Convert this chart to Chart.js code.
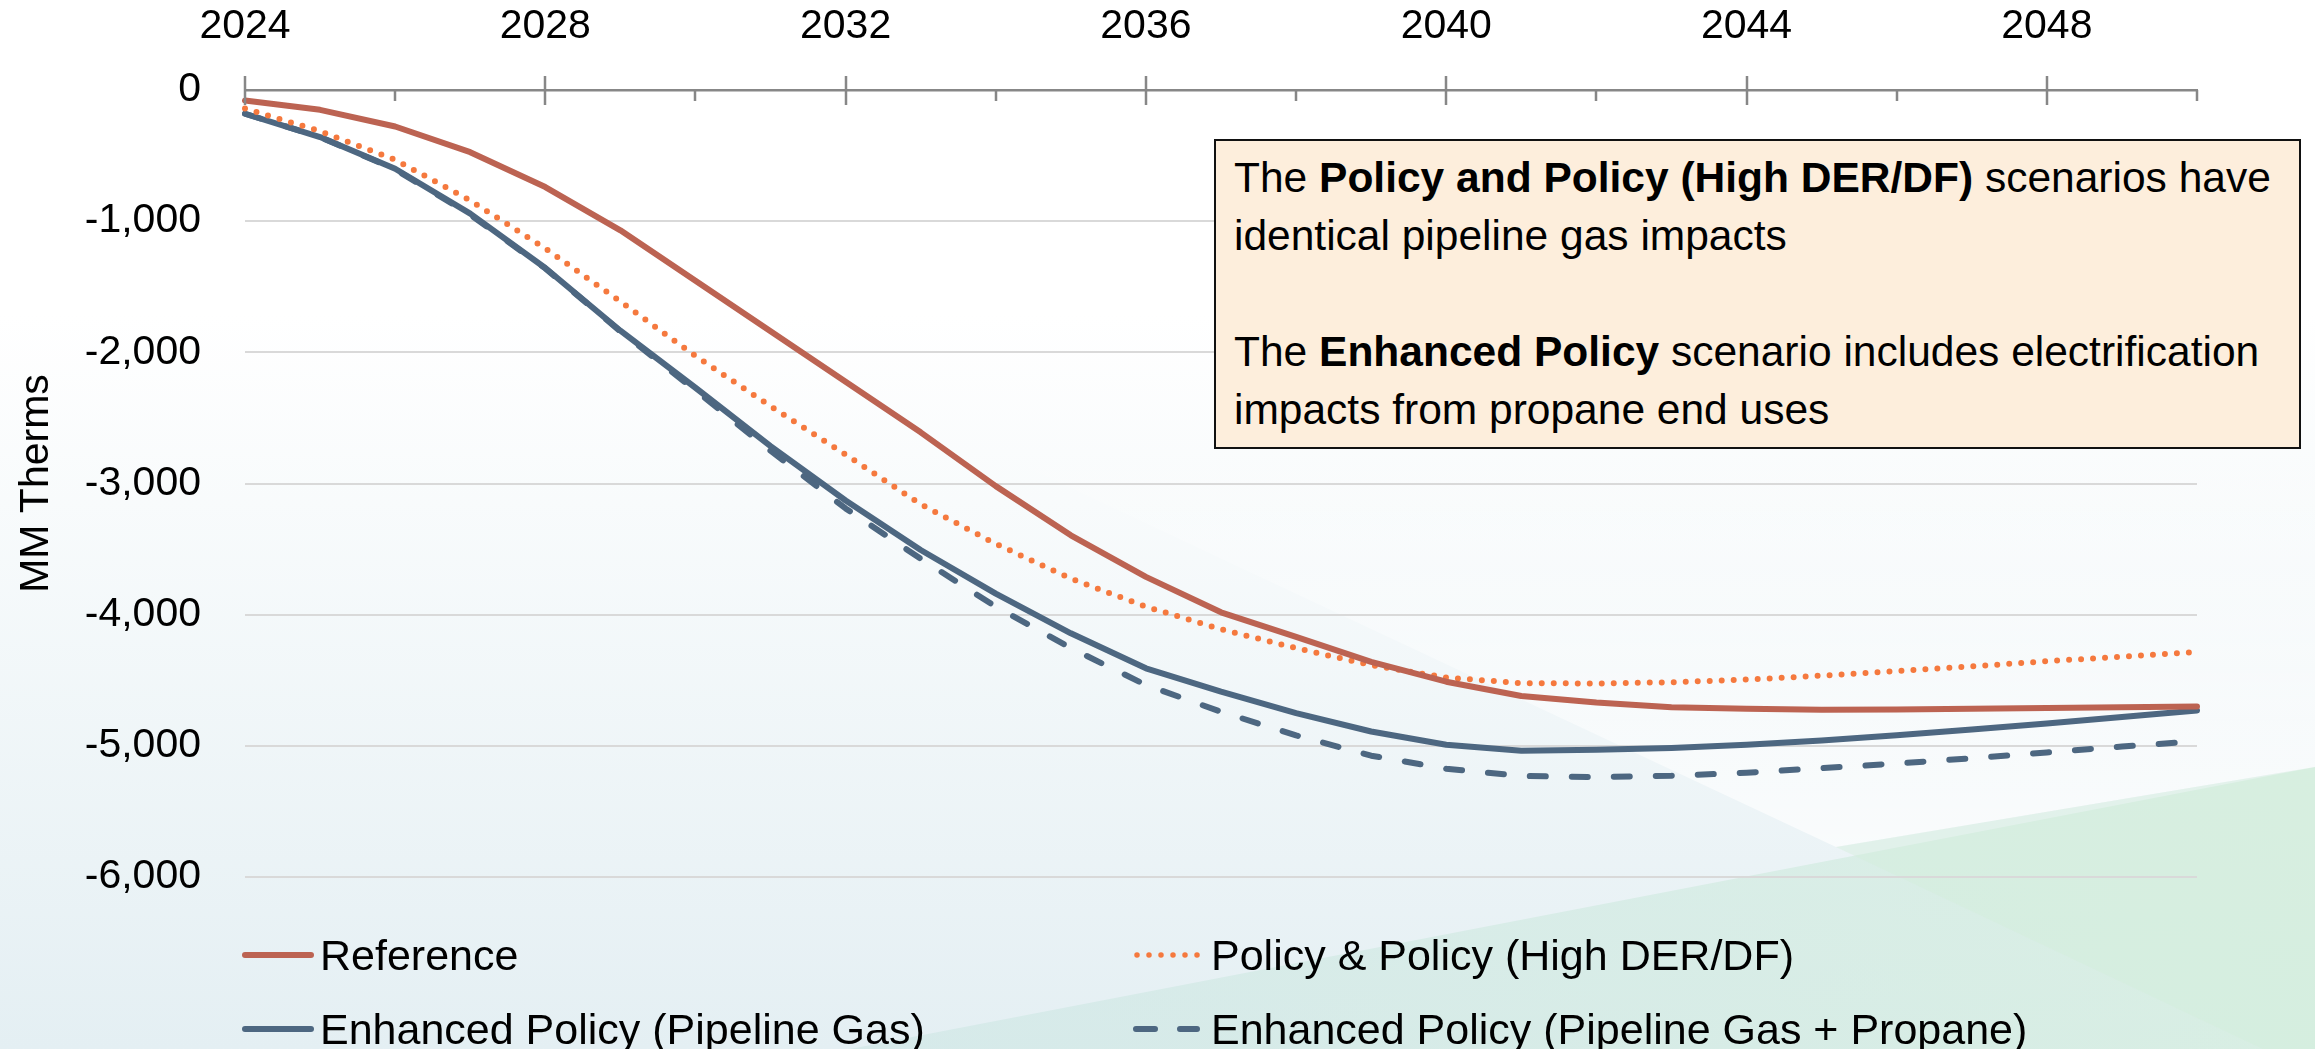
<!DOCTYPE html>
<html><head><meta charset="utf-8">
<script src="https://cdn.jsdelivr.net/npm/chart.js@4.4.1/dist/chart.umd.min.js"></script>
<style>
html,body{margin:0;padding:0;background:#fff;}
#wrap{position:relative;width:2315px;height:1049px;overflow:hidden;font-family:"Liberation Sans",Arial,sans-serif;}
#c{position:absolute;left:0;top:0;}
#note{position:absolute;left:1214px;top:139px;width:1087px;height:310px;box-sizing:border-box;border:2px solid #111;background:#FDEEDC;padding:8px 0 0 18px;font-size:42.5px;line-height:58px;color:#000;white-space:nowrap;}
.leg{position:absolute;height:60px;display:flex;align-items:center;font-size:43px;color:#000;white-space:nowrap;}
</style></head><body>
<div id="wrap"><canvas id="c" width="2315" height="1049"></canvas>
<div id="note">The <b>Policy and Policy (High DER/DF)</b> scenarios have<br>identical pipeline gas impacts<br><br>The <b>Enhanced Policy</b> scenario includes electrification<br>impacts from propane end uses</div>
<div id="legend"></div>
</div>
<script>
// ---- data ----
const years = ['2024','2025','2026','2027','2028','2029','2030','2031','2032','2033','2034','2035','2036','2037','2038','2039','2040','2041','2042','2043','2044','2045','2046','2047','2048','2049','2050'];
const majorYears = ['2024','2028','2032','2036','2040','2044','2048'];
const minorYears = ['2026','2030','2034','2038','2042','2046','2050'];
const reference = [-80,-151,-278,-474,-740,-1070,-1455,-1840,-2225,-2610,-3020,-3395,-3712,-3982,-4170,-4360,-4511,-4620,-4670,-4705,-4718,-4725,-4723,-4718,-4712,-4706,-4700];
const policy = [-141,-314,-532,-842,-1208,-1612,-2028,-2410,-2779,-3158,-3460,-3725,-3939,-4111,-4255,-4385,-4480,-4522,-4525,-4515,-4495,-4465,-4430,-4395,-4355,-4320,-4285];
const enhancedGas = [-181,-359,-600,-943,-1357,-1835,-2270,-2715,-3130,-3507,-3840,-4142,-4409,-4587,-4751,-4891,-4992,-5038,-5030,-5017,-4992,-4960,-4920,-4875,-4830,-4780,-4731];
const enhancedGasPropane = [-181,-359,-605,-950,-1360,-1840,-2290,-2750,-3190,-3574,-3939,-4255,-4536,-4740,-4920,-5075,-5175,-5230,-5238,-5228,-5205,-5170,-5135,-5095,-5050,-5005,-4965];
const seriesNames = ['Reference','Policy & Policy (High DER/DF)','Enhanced Policy (Pipeline Gas)','Enhanced Policy (Pipeline Gas + Propane)'];
const yTitle = 'MM Therms';

const FONT = '"Liberation Sans", Arial, sans-serif';
const RED = '#BC6352', ORANGE = '#F5793E', BLUE = '#4D6781';

const bgPlugin = {
  id: 'bg',
  beforeDraw(chart) {
    const ctx = chart.ctx, W = chart.width, H = chart.height;
    ctx.save();
    const g = ctx.createLinearGradient(0, 0, 0, H);
    g.addColorStop(0, '#FFFFFF'); g.addColorStop(0.3, '#FFFFFF'); g.addColorStop(1, '#E4EFF3');
    ctx.fillStyle = g; ctx.fillRect(0, 0, W, H);
    ctx.beginPath(); ctx.moveTo(850, H); ctx.lineTo(W, 767); ctx.lineTo(W, H); ctx.closePath();
    const g2 = ctx.createLinearGradient(850, 0, W, 0);
    g2.addColorStop(0, 'rgba(205,230,228,0.6)'); g2.addColorStop(1, 'rgba(212,238,222,0.75)');
    ctx.fillStyle = g2; ctx.fill();
    ctx.beginPath(); ctx.moveTo(1836, 847); ctx.lineTo(900, 408); ctx.lineTo(W, 408); ctx.lineTo(W, 767); ctx.closePath();
    const g3 = ctx.createLinearGradient(0, 408, 0, 847);
    g3.addColorStop(0, 'rgba(255,255,255,0)'); g3.addColorStop(1, 'rgba(255,255,255,0.7)');
    ctx.fillStyle = g3; ctx.fill();
    ctx.beginPath(); ctx.moveTo(1836, 847); ctx.lineTo(W, 767); ctx.lineTo(W, H); ctx.lineTo(2263, H); ctx.closePath();
    ctx.fillStyle = 'rgba(210,238,218,0.4)'; ctx.fill();
    ctx.restore();
  }
};

const tickPlugin = {
  id: 'xticks',
  afterDraw(chart) {
    const ctx = chart.ctx, xs = chart.scales.x, ys = chart.scales.y;
    const y0 = ys.getPixelForValue(0);
    ctx.save();
    ctx.strokeStyle = '#878787'; ctx.lineWidth = 2.5;
    majorYears.forEach(yr => {
      const x = Math.round(xs.getPixelForValue(years.indexOf(yr)));
      ctx.beginPath(); ctx.moveTo(x, y0 - 14); ctx.lineTo(x, y0 + 15); ctx.stroke();
    });
    minorYears.forEach(yr => {
      const x = Math.round(xs.getPixelForValue(years.indexOf(yr)));
      ctx.beginPath(); ctx.moveTo(x, y0); ctx.lineTo(x, y0 + 11); ctx.stroke();
    });
    ctx.restore();
  }
};

const styles = [
  { color: RED, dash: [], width: 6, cap: 'round' },
  { color: ORANGE, dash: [0, 12], width: 6, cap: 'round' },
  { color: BLUE, dash: [], width: 6, cap: 'round' },
  { color: BLUE, dash: [16, 26], width: 6, cap: 'round' }
];
const values = [reference, policy, enhancedGas, enhancedGasPropane];

const chart = new Chart(document.getElementById('c'), {
  type: 'line',
  data: {
    labels: years,
    datasets: values.map((v, i) => ({
      label: seriesNames[i], data: v,
      borderColor: styles[i].color, backgroundColor: styles[i].color,
      borderWidth: styles[i].width, borderDash: styles[i].dash, borderCapStyle: styles[i].cap,
      borderJoinStyle: 'round', pointRadius: 0, tension: 0, fill: false
    }))
  },
  options: {
    responsive: false, animation: false, devicePixelRatio: 1,
    layout: { padding: { left: 0, right: 118, top: 0, bottom: 172 } },
    plugins: { legend: { display: false }, tooltip: { enabled: false } },
    scales: {
      x: {
        position: 'top',
        grid: { display: false },
        border: { display: true, color: '#878787', width: 2.5 },
        ticks: {
          autoSkip: false, maxRotation: 0, padding: 31, color: '#000',
          font: { family: FONT, size: 41 },
          callback: (v, i) => majorYears.includes(years[i]) ? years[i] : ''
        },
        afterFit: s => { s.height = 90; }
      },
      y: {
        min: -6000, max: 0,
        ticks: { stepSize: 1000, padding: 44, color: '#000', font: { family: FONT, size: 41 },
          callback: v => Number(v).toLocaleString('en-US') },
        grid: { color: '#D9D9D9', lineWidth: 2, drawTicks: false },
        border: { display: false },
        title: { display: true, text: yTitle, color: '#000', font: { family: FONT, size: 41 }, padding: { top: 12, bottom: 0 } },
        afterFit: s => { s.width = 245; }
      }
    }
  },
  plugins: [bgPlugin, tickPlugin]
});

// ---- HTML legend built from the datasets ----
const legPos = [[241, 925], [1131, 925], [241, 999], [1131, 999]];
const legSvg = [
  '<line x1="4" y1="6" x2="70" y2="6" stroke="' + RED + '" stroke-width="6" stroke-linecap="round"/>',
  '<line x1="6" y1="6" x2="67" y2="6" stroke="' + ORANGE + '" stroke-width="5.5" stroke-linecap="round" stroke-dasharray="0 12"/>',
  '<line x1="4" y1="6" x2="70" y2="6" stroke="' + BLUE + '" stroke-width="6" stroke-linecap="round"/>',
  '<line x1="5" y1="6" x2="66" y2="6" stroke="' + BLUE + '" stroke-width="6" stroke-linecap="round" stroke-dasharray="19 25"/>'
];
const legend = document.getElementById('legend');
chart.data.datasets.forEach((ds, i) => {
  const d = document.createElement('div');
  d.className = 'leg';
  d.style.left = legPos[i][0] + 'px'; d.style.top = legPos[i][1] + 'px';
  d.innerHTML = '<svg width="74" height="12" style="margin-right:' + (i % 2 ? 6 : 5) + 'px">' + legSvg[i] + '</svg><span>' + ds.label.replace(/&/g, '&amp;') + '</span>';
  legend.appendChild(d);
});
</script>
</body></html>
